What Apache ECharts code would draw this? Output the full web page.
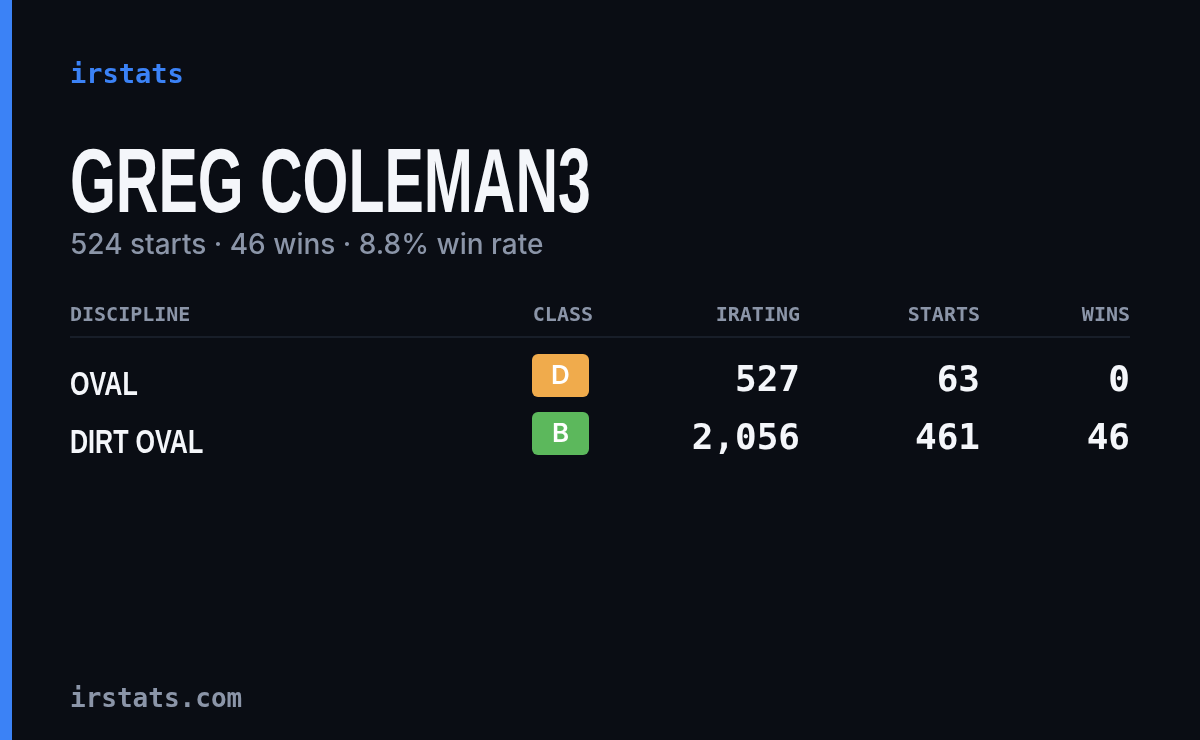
<!DOCTYPE html>
<html><head><meta charset="utf-8">
<script src="https://cdn.jsdelivr.net/npm/echarts@6/dist/echarts.min.js"></script>
<style>html,body{margin:0;padding:0;background:#0a0d14}#c{width:1200px;height:740px}</style>
</head><body><div id="c"></div>
<script>
const driverName = "GREG COLEMAN3";
const summary = "524 starts · 46 wins · 8.8% win rate";
const headers = ["DISCIPLINE","CLASS","IRATING","STARTS","WINS"];
const disciplines = ["OVAL","DIRT OVAL"];
const classes = ["D","B"];
const iratings = [527, 2056];
const starts = [63, 461];
const wins = [0, 46];
const classColors = {D:"#f0ab4c", B:"#5cb85c"};

const chart = echarts.init(document.getElementById('c'));
const mono = '"DejaVu Sans Mono", monospace';
const narrow = '"Liberation Sans Narrow", "Liberation Sans", sans-serif';
const fmt = v => v.toLocaleString('en-US');
const g = [];
g.push({type:'rect', shape:{x:0,y:0,width:1200,height:740}, style:{fill:'#0a0d14'}});
g.push({type:'rect', shape:{x:0,y:0,width:12,height:740}, style:{fill:'#3b82f6'}});
g.push({type:'text', x:70, y:76, style:{text:'irstats', font:'bold 27px '+mono, fill:'#3b82f6', textVerticalAlign:'middle'}});
g.push({type:'text', x:70, y:187, scaleX:0.655, style:{text:driverName, font:'bold 90px '+narrow, fill:'#f4f6fa', textVerticalAlign:'middle'}});
g.push({type:'text', x:70, y:246, style:{text:summary, font:'500 28px Inter, "Noto Sans", sans-serif', fill:'#8b95a8', textVerticalAlign:'middle'}});
const hx = [70, 593, 800, 980, 1130];
const ha = ['left','right','right','right','right'];
headers.forEach((h,i)=>g.push({type:'text', x:hx[i], y:316, style:{text:h, font:'bold 20px '+mono, fill:'#8b95a8', textAlign:ha[i], textVerticalAlign:'middle'}}));
g.push({type:'line', shape:{x1:70,y1:337,x2:1130,y2:337}, style:{stroke:'#1e2430', lineWidth:1.5}});
disciplines.forEach((d,i)=>{
  const y = 378 + i*58;
  g.push({type:'text', x:70, y:y+8, scaleX:0.76, style:{text:d, font:'bold 33px '+narrow, fill:'#f4f6fa', textVerticalAlign:'middle'}});
  g.push({type:'rect', shape:{x:532,y:y-24,width:57,height:43,r:6}, style:{fill:classColors[classes[i]]}});
  g.push({type:'text', x:560.5, y:y-2, style:{text:classes[i], font:'600 26px Inter, "Noto Sans", sans-serif', fill:'#ffffff', textAlign:'center', textVerticalAlign:'middle'}});
  [fmt(iratings[i]), fmt(starts[i]), fmt(wins[i])].forEach((v,j)=>g.push({type:'text', x:hx[j+2], y:y+4, style:{text:v, font:'600 36px '+mono, fill:'#f4f6fa', textAlign:'right', textVerticalAlign:'middle'}}));
});
g.push({type:'text', x:70, y:700, style:{text:'irstats.com', font:'bold 26px '+mono, fill:'#8b95a8', textVerticalAlign:'middle'}});
chart.setOption({backgroundColor:'#0a0d14', graphic:{elements:g}});
</script></body></html>
